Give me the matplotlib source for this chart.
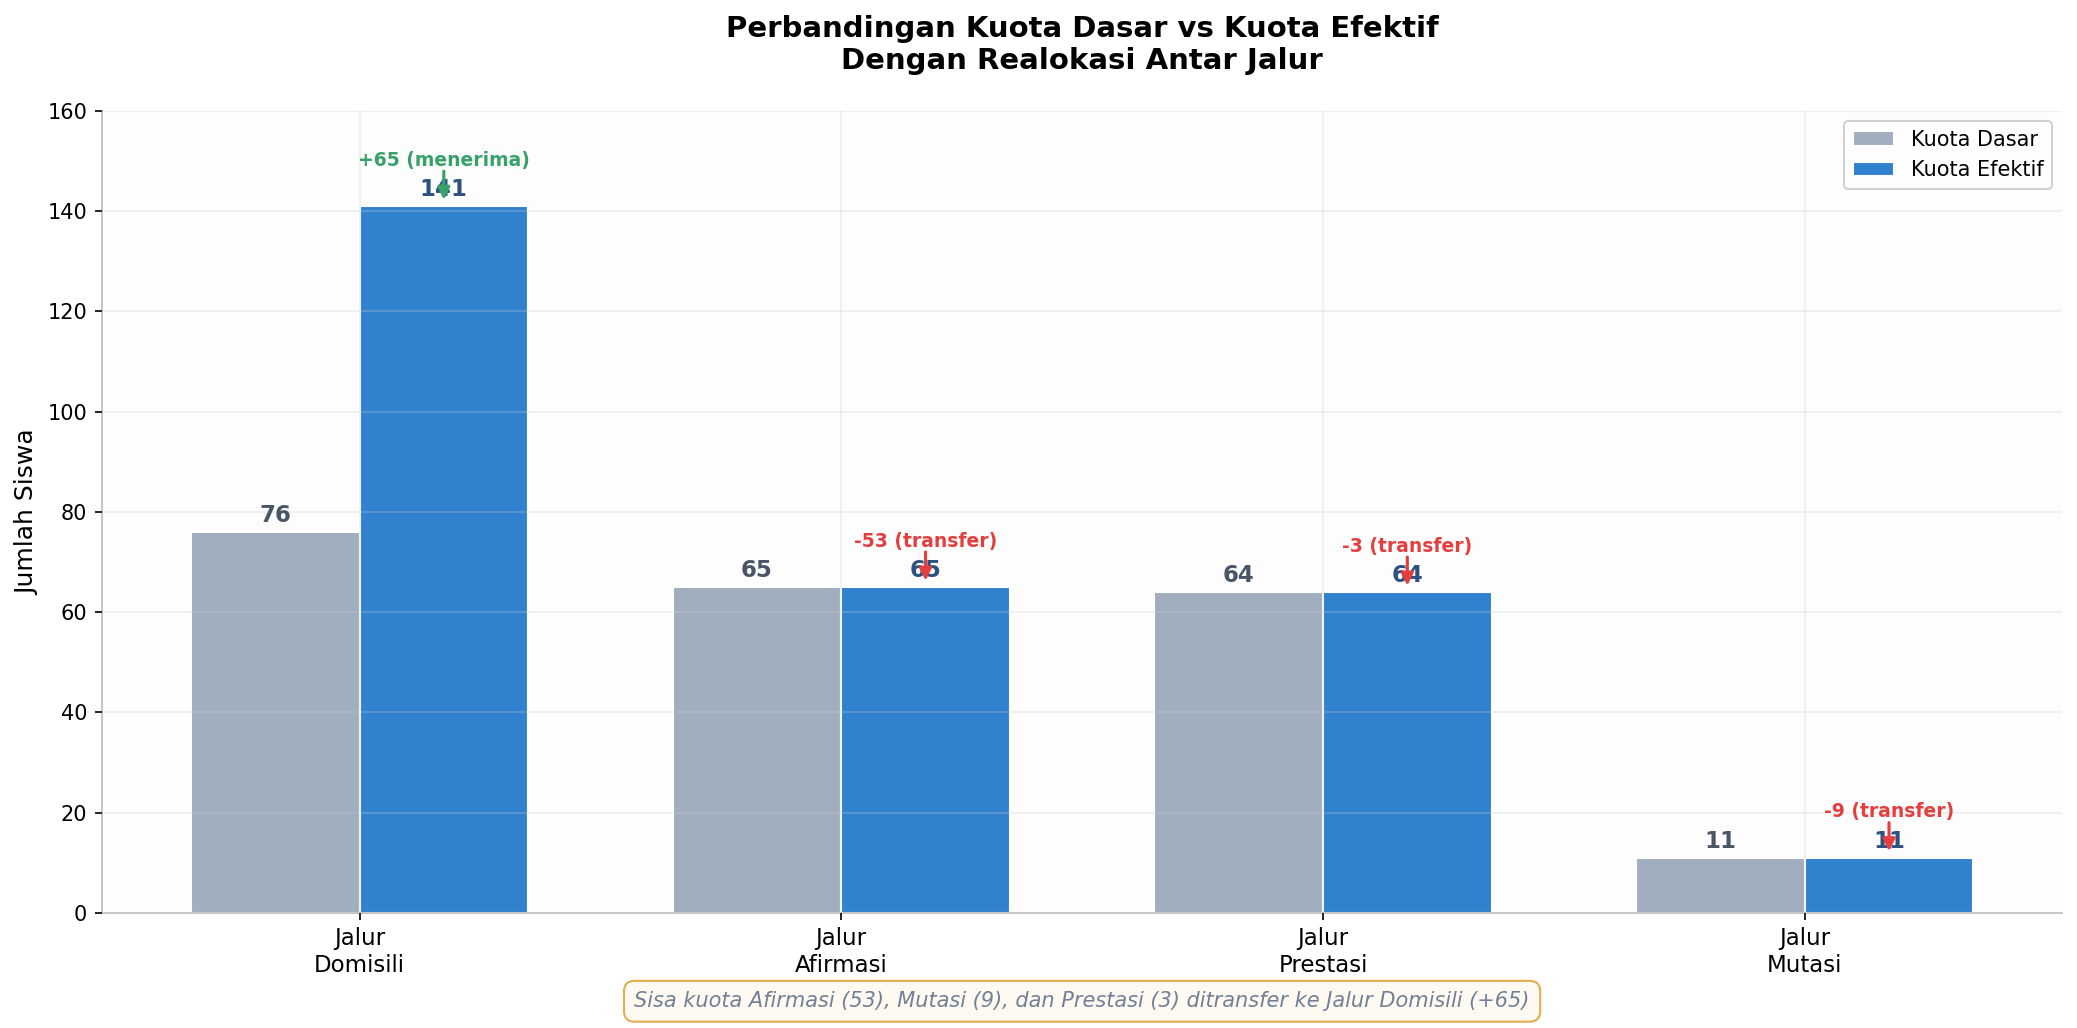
import numpy as np
import matplotlib
matplotlib.use('Agg')
import matplotlib.pyplot as plt
from matplotlib.transforms import blended_transform_factory

categories = ['Jalur\nDomisili', 'Jalur\nAfirmasi', 'Jalur\nPrestasi', 'Jalur\nMutasi']
kuota_dasar = [76, 65, 64, 11]
kuota_efektif = [141, 65, 64, 11]
change_labels = ['+65 (menerima)', '-53 (transfer)', '-3 (transfer)', '-9 (transfer)']
is_receiver = [True, False, False, False]
note_text = 'Sisa kuota Afirmasi (53), Mutasi (9), dan Prestasi (3) ditransfer ke Jalur Domisili (+65)'

fig, ax = plt.subplots(figsize=(2077 / 150, 1028 / 150), dpi=150)
fig.subplots_adjust(left=0.049, right=0.993, bottom=0.112, top=0.892)
ax.set_facecolor('#fdfdfd')

x = np.arange(len(categories))
width = 0.35

bars1 = ax.bar(x - width / 2, kuota_dasar, width, label='Kuota Dasar',
               color='#a0aec0', edgecolor='white', linewidth=1)
bars2 = ax.bar(x + width / 2, kuota_efektif, width, label='Kuota Efektif',
               color='#3182ce', edgecolor='white', linewidth=1)

# value labels
for b, v in zip(bars1, kuota_dasar):
    ax.text(b.get_x() + b.get_width() / 2, v + 1, str(v), ha='center', va='bottom',
            fontsize=11, fontweight='bold', color='#4a5568')
for b, v in zip(bars2, kuota_efektif):
    ax.text(b.get_x() + b.get_width() / 2, v + 1, str(v), ha='center', va='bottom',
            fontsize=11, fontweight='bold', color='#2c5282')

# realokasi arrows
for b, v, lab, rec in zip(bars2, kuota_efektif, change_labels, is_receiver):
    cx = b.get_x() + b.get_width() / 2
    col = '#38a169' if rec else '#e53e3e'
    ax.annotate('', xy=(cx, v + 1.3), xytext=(cx, v + 7),
                arrowprops=dict(arrowstyle='-|>', color=col, lw=1.5, mutation_scale=12,
                                shrinkA=0, shrinkB=0))
    ax.text(cx, v + 7.3, lab, ha='center', va='bottom', fontsize=9,
            fontweight='bold', color=col)

ax.set_ylim(0, 160)
ax.set_xticks(x)
ax.set_xticklabels(categories, fontsize=11)
ax.tick_params(axis='y', labelsize=10)
ax.set_ylabel('Jumlah Siswa', fontsize=12)
ax.set_title('Perbandingan Kuota Dasar vs Kuota Efektif\nDengan Realokasi Antar Jalur',
             fontsize=14, fontweight='bold', pad=20)

ax.grid(True, alpha=0.3, color='#cccccc', linewidth=0.8)
ax.set_axisbelow(False)
for s in ['top', 'right']:
    ax.spines[s].set_visible(False)
for s in ['left', 'bottom']:
    ax.spines[s].set_color('#bbbbbb')

ax.legend(loc='upper right', fontsize=10, framealpha=0.9, edgecolor='#cccccc')

note_tf = blended_transform_factory(ax.transAxes, fig.transFigure)
ax.text(0.5, 0.026, note_text, ha='center', va='center', fontsize=10,
        style='italic', color='#718096', transform=note_tf,
        bbox=dict(boxstyle='round,pad=0.5', facecolor='#fffaf0', edgecolor='#e2a43b', alpha=0.9))

fig.savefig('out.png', dpi=150)
